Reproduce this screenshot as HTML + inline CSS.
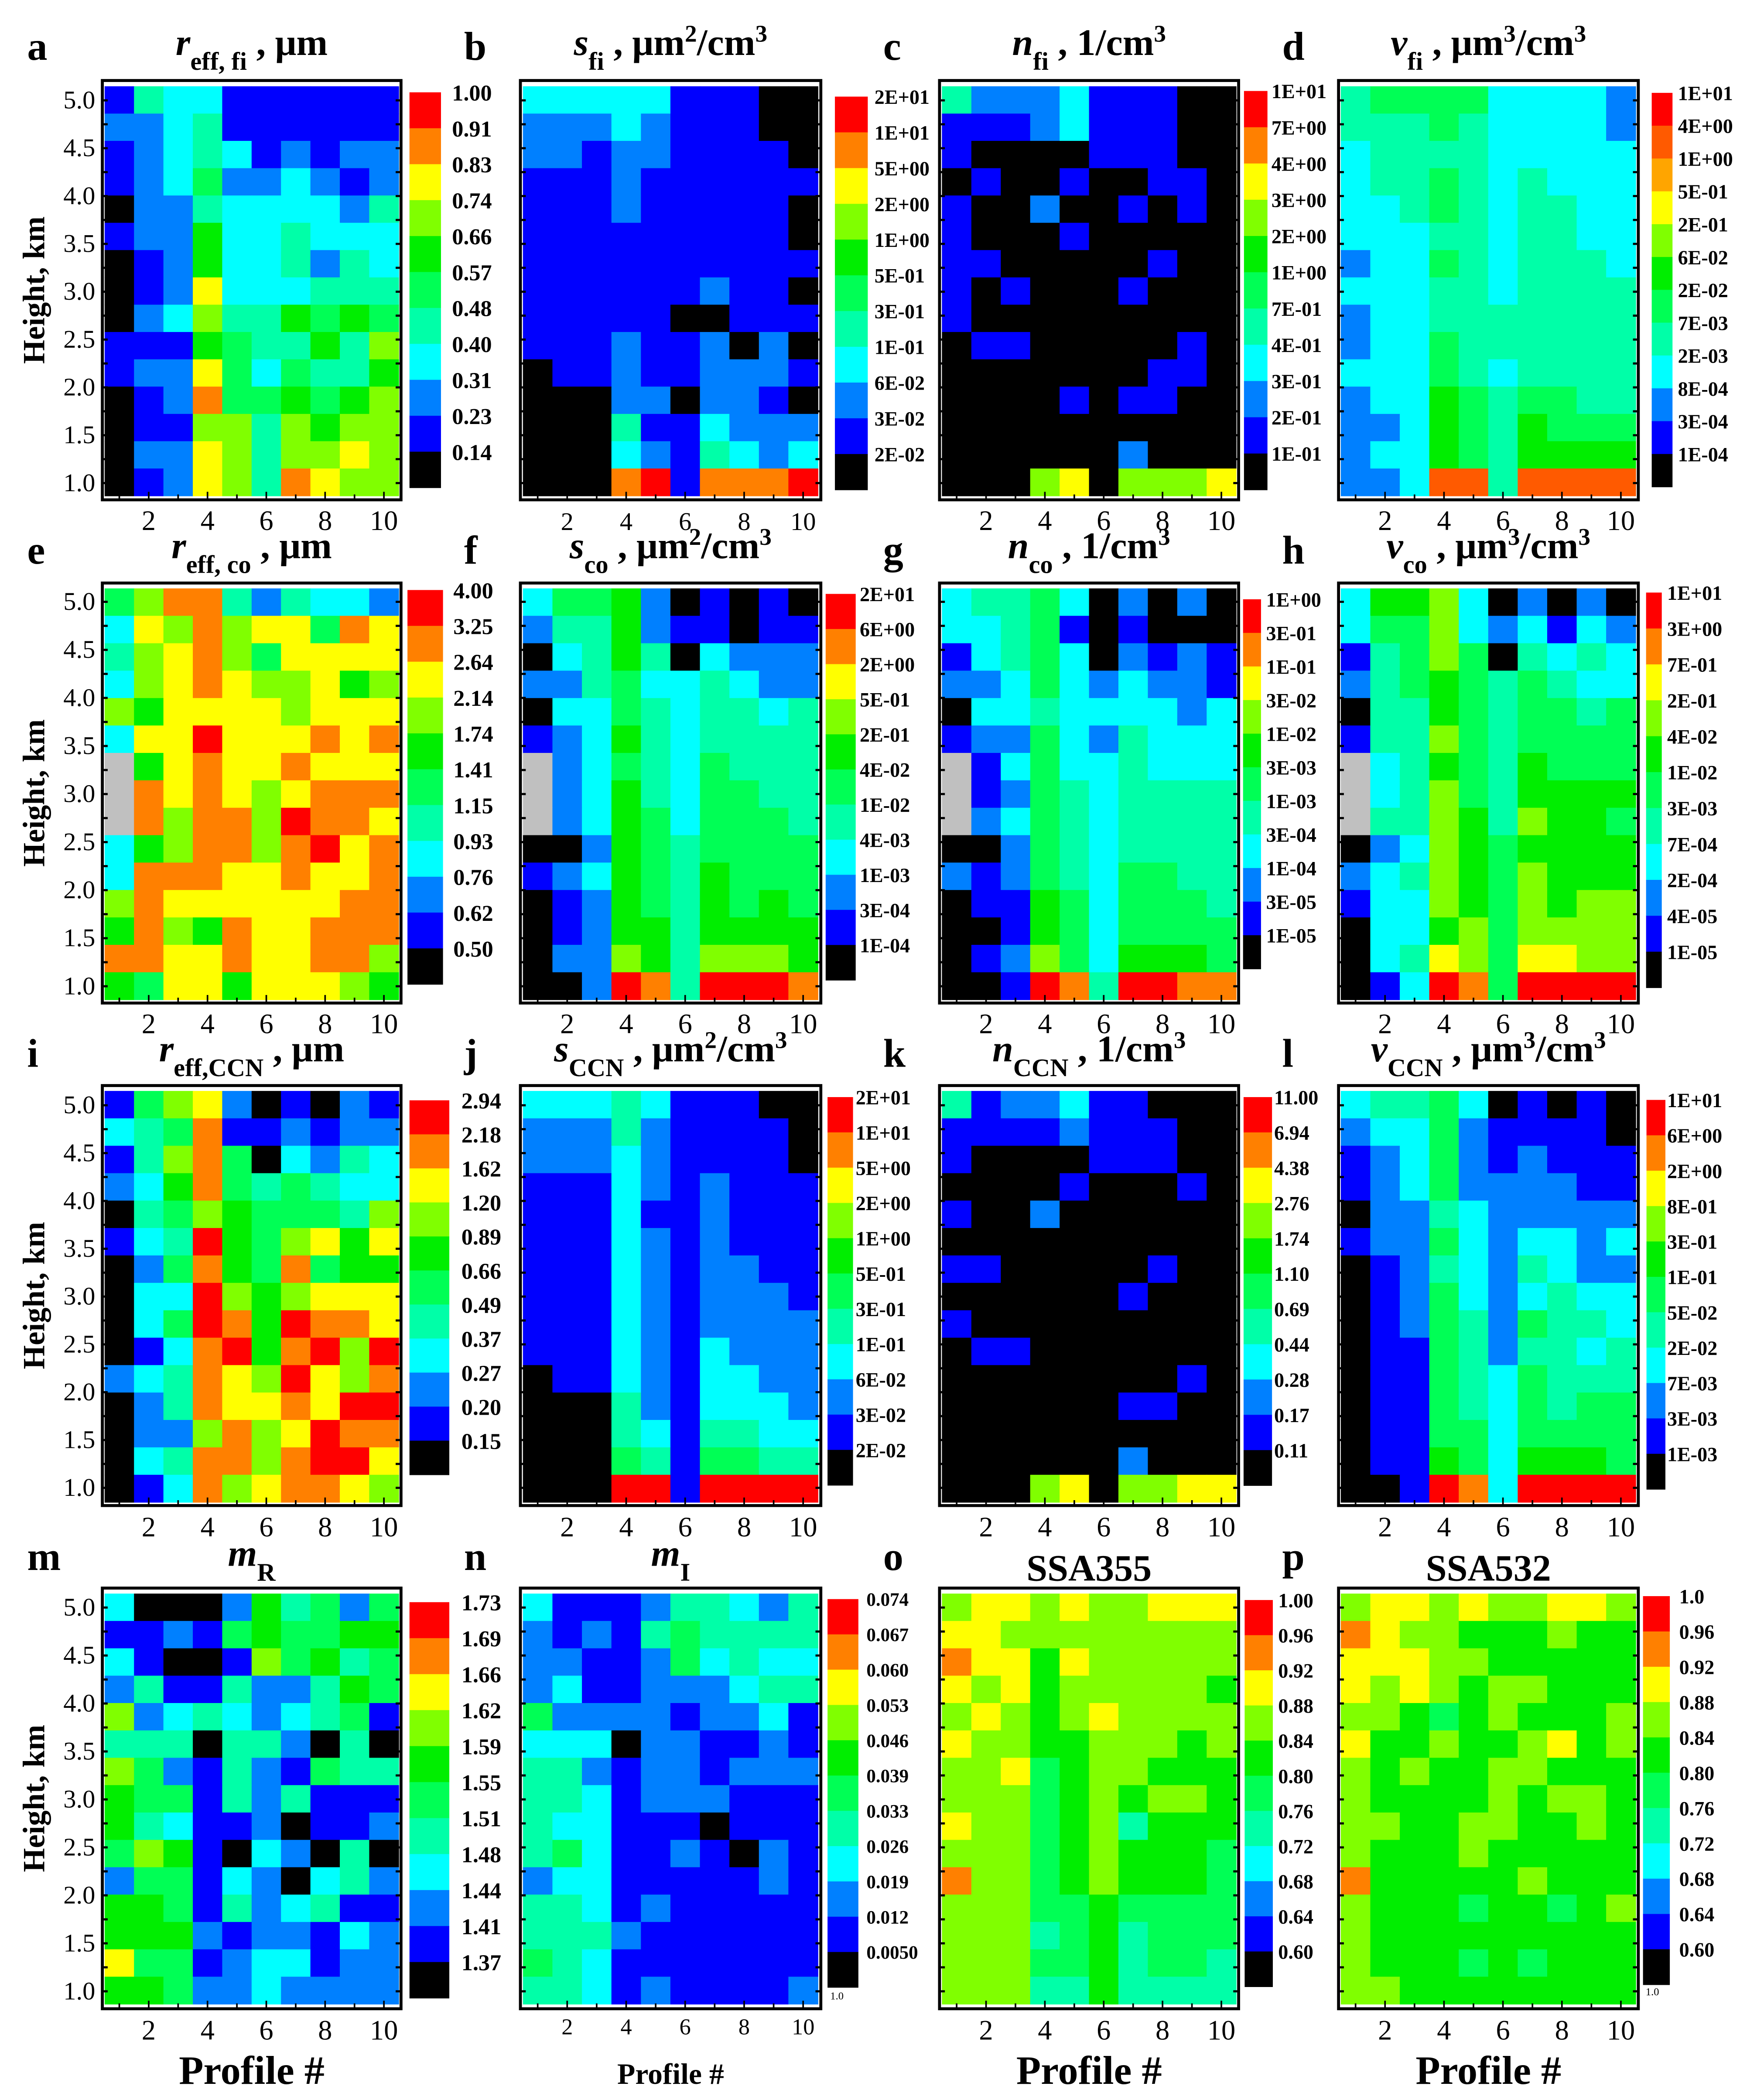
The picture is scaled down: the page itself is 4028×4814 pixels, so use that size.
<!DOCTYPE html>
<html><head><meta charset="utf-8">
<style>
html,body{margin:0;padding:0;background:#fff;}
svg{display:block;}
text{font-family:"Liberation Serif","DejaVu Serif",serif;}
</style></head>
<body>
<svg id="fig" xmlns="http://www.w3.org/2000/svg" width="4028" height="4814" viewBox="0 0 1310 1565" preserveAspectRatio="none">
<rect x="0" y="0" width="1310" height="1565" fill="#fff"/>
</svg>
<script>
// ---------- data ----------
const profiles = [1,2,3,4,5,6,7,8,9,10];
const heightTicks = [1.0,1.5,2.0,2.5,3.0,3.5,4.0,4.5,5.0];
const xTickLabels = [2,4,6,8,10];
// color level codes per cell (rows top = highest altitude)
const gridA = ["BMCCBBBBBB","LLCMBBBBBB","BLCMCBLBLL","BLCGLLCLBL","KLLMCCCCLM","BLLHCCMCCC","KBLHCCMLMC","KBLWCCCMMM","KLCYMMHGHG","BBBHGMMHMY","BLLWGCGMMH","KBLOGGHGHY","KBBYYMYHYY","KLLWYMYYWY","KBLWYMOWYY"];
const gridB = ["CCCCCBBBKK","LLLCLBBBKK","LLBLLBBBBK","BBBLBBBBBB","BBBLBBBBBK","BBBBBBBBBK","BBBBBBBBBB","BBBBBBLBBK","BBBBBKKBBB","BBBLBBLKLK","KBBLBBLLLB","KKKLLKLLBK","KKKMBBCLLL","KKKCLBMCLC","KKKORBOOOR"];
const gridC = ["MLLLCBBBKK","BBBLCBBBKK","BKKKKBBBKK","KBKKBKKBBK","BKKLKKBKBK","BKKKBKKKKK","BBKKKKKBKK","BKBKKKBKKK","BKKKKKKKKK","KBBKKKKKBK","KKKKKKKBBK","KKKKBKBBKK","KKKKKKKKKK","KKKKKKLKKK","KKKYWKYYYW"];
const gridD = ["MGGGGCCCCL","MMMGMCCCCL","CMMMMCCCCC","CMMGMCMCCC","CCMGMCMMCC","CCCMMCMMCC","LCCGMCMMMC","CCCMMCMMMM","LCCMMMMMMM","LCCGMMMMMM","CCCGMCMMMM","LCCHGMGGMM","LLCHGMHGGG","LCCHGMHHHH","LLCPPMPPPP"];
const gridE = ["GYOOMLMCCL","CWYOYWWGOW","MYWOYGWWWW","CYWOWYYWHY","YHWWWWYWWW","CWWRWWWOWO","SHWOWWOWWW","SOWOWYWOOO","SOYOOYROOW","CHYOOYORWO","COOOWWOWWO","YOWWWWWWOO","HOYHOWWOOO","OOWWOWWOOY","HGWWHWWWYH"];
const gridF = ["CGGHLKBKBK","LMMHLBBKBB","KCMHMKCLLL","LLMGCCMCLL","KCCGMCMMCM","BLCHMCMMMM","SLCGMCGMMM","SLCHMCGGMM","SLCHGCGGGM","KKLHGMGGGG","BLCHGMHGGG","KBLHGMHGHG","KBLHHMHHHH","KLLYHMYYYH","KKLROMRRRO"];
const gridG = ["CMMGCKLKLK","CCMGBKBKKK","BCMGCKLBLB","LLCGCLCLLB","KCCMCCCCLC","BLLGCLMCCC","SBCGCCMCCC","SBLGMCMMMM","SLCGMCMMMM","KKLGMCMMMM","LBLGMCGGMM","KBBHGCGGGM","KKBHGCGGGG","KBLYGCHHHG","KKBROMRROO"];
const gridH = ["CHHYCKLKLK","CGGYCLCBCL","BMGYGKMCMC","LMGHGMGMCC","KMMHGMGGMG","BMMYGMGGGG","SCMHGMHGGG","SCMYGMHHHH","SMMYHMYHHG","KLCYHGHHHH","LCMYHGYHHH","BCCYHGYHYY","KCCHYGYYYY","KCMWYGWWYY","KBCROGRRRR"];
const gridI = ["BGYWLKBKLB","CMGOBBLBLL","BMYOGKCLMC","LCHOGMGMCC","KMGYHGGGMY","BCMRHGYWHW","KLGOHGOGHH","KCCRYHYWWW","KCGROHROOW","KBCORHORYR","LCMOWYRWYO","KLMOWWOWRR","KLLYOYWROO","KCMOOYORRW","KBCOYWOOWY"];
const gridJ = ["CCCMCBBBKK","LLLMLBBBBK","LLLCLBBBBK","BBBCLBLBBB","BBBCBBLBBB","BBBCLBLBBB","BBBCLBLLBB","BBBCLBLLLB","BBBCLBLLLL","BBBCLBCLLL","KBBCLBCCLL","KKKMLBCCCL","KKKMCBMMCC","KKKGMBGGMM","KKKRRBRRRR"];
const gridK = ["MBLLCBBKKK","BBBBLBBBKK","BKKKKBBBKK","KKKKBKKKBK","BKKLKKKKKK","KKKKKKKKKK","BBKKKKKBKK","KKKKKKBKKK","BKKKKKKKKK","KBBKKKKKKK","KKKKKKKKBK","KKKKKKBBKK","KKKKKKKKKK","KKKKKKLKKK","KKKYWKYYWW"];
const gridL = ["CMMGCKBKBK","LCCGLBBBBK","BLCGLBLBBB","BLCGLLLLBB","KLLMCLLLLL","BLLGCLCCLC","KBLMCLMCLL","KBLGCLCMCC","KBLGMLGMMC","KBBGMLMMCM","KBBGMCGMMM","KBBGMCGMGG","KBBGGCGGGG","KBBHGCHHHG","KKBROCRRRR"];
const gridM = ["CKKKLHMGLG","BBLBGHGGHH","CBKKBYGHMG","LMBBMLLMHG","YLCMCLCMGB","MMMKMMLKMK","YGLBMLBGMM","HGGBMLMBBB","HMCBBLKBBL","GYHBKCLKMK","LGGBCLKCML","HHGBMLCMBB","HHHLBLLBCL","WGGBLCCBLL","HHGLLCLLLL"];
const gridN = ["CBBBLMMCLM","LBLBMGMMMM","LLBBLGCMCC","LCBBLLLCMM","GLLLLBLLCB","CCCKLLBBLB","MMLBLLBLLL","MMCBLLLBBB","MCCBBBKBBB","MGCBBLBKLB","LCCBBBBBLB","MMCBLBBBBB","MMMLBBBBBB","GMCBBBBBBB","MMCBLBBBBL"];
const gridO = ["YWWYWYYWWW","WWYYYYYYYY","OWWHWYYYYY","WYWHYYYYYH","YWYHYWYYYY","WYYHHYYYHY","YYWGHYYHHH","YYYGHYHYYH","WYYGHYMHHH","YYYGHYHHHG","OYYGHYHHHG","YYYGGHGGGG","YYYMGHMGGG","YYYGGHMGGM","YYYMMHMMMM"];
const gridP = ["YWWYWYYWWY","OWYYHHHYHH","WWWYYHHHHH","WYWYHYYHHH","YYHGHYHHHY","WHHYHHYWHY","YHYHHYYHHH","YHHHHYHYYH","YYHHYYHHYH","YHHHYHHHHH","OHHHHHYHHH","YHHHGHHGHY","YHHHHHHHHH","YHHHGHGHHH","YYHHHHHHHH"];
// colorbar tick labels
const labelsA = ["1.00","0.91","0.83","0.74","0.66","0.57","0.48","0.40","0.31","0.23","0.14"];
const labelsB = ["2E+01","1E+01","5E+00","2E+00","1E+00","5E-01","3E-01","1E-01","6E-02","3E-02","2E-02"];
const labelsC = ["1E+01","7E+00","4E+00","3E+00","2E+00","1E+00","7E-01","4E-01","3E-01","2E-01","1E-01"];
const labelsD = ["1E+01","4E+00","1E+00","5E-01","2E-01","6E-02","2E-02","7E-03","2E-03","8E-04","3E-04","1E-04"];
const labelsE = ["4.00","3.25","2.64","2.14","1.74","1.41","1.15","0.93","0.76","0.62","0.50"];
const labelsF = ["2E+01","6E+00","2E+00","5E-01","2E-01","4E-02","1E-02","4E-03","1E-03","3E-04","1E-04"];
const labelsG = ["1E+00","3E-01","1E-01","3E-02","1E-02","3E-03","1E-03","3E-04","1E-04","3E-05","1E-05"];
const labelsH = ["1E+01","3E+00","7E-01","2E-01","4E-02","1E-02","3E-03","7E-04","2E-04","4E-05","1E-05"];
const labelsI = ["2.94","2.18","1.62","1.20","0.89","0.66","0.49","0.37","0.27","0.20","0.15"];
const labelsJ = ["2E+01","1E+01","5E+00","2E+00","1E+00","5E-01","3E-01","1E-01","6E-02","3E-02","2E-02"];
const labelsK = ["11.00","6.94","4.38","2.76","1.74","1.10","0.69","0.44","0.28","0.17","0.11"];
const labelsL = ["1E+01","6E+00","2E+00","8E-01","3E-01","1E-01","5E-02","2E-02","7E-03","3E-03","1E-03"];
const labelsM = ["1.73","1.69","1.66","1.62","1.59","1.55","1.51","1.48","1.44","1.41","1.37"];
const labelsN = ["0.074","0.067","0.060","0.053","0.046","0.039","0.033","0.026","0.019","0.012","0.0050"];
const labelsO = ["1.00","0.96","0.92","0.88","0.84","0.80","0.76","0.72","0.68","0.64","0.60"];
const labelsP = ["1.0","0.96","0.92","0.88","0.84","0.80","0.76","0.72","0.68","0.64","0.60"];
const bandsStd = "ROWYHGMCLBK";
const bandsD = "RPAWYHGMCLBK";

// ---------- style / layout ----------
const COLORS = {K:'#000000',B:'#0000ff',L:'#0080ff',C:'#00ffff',M:'#00ffa8',G:'#00ff55',H:'#00ee00',Y:'#80ff00',W:'#ffff00',O:'#ff8000',R:'#ff0000',P:'#ff5a00',A:'#ffa500',S:'#c0c0c0'};
const NS = 'http://www.w3.org/2000/svg';
const svg = document.getElementById('fig');
const colX = [ {f0:76.3,f1:299,c0:78,c1:297.2}, {f0:388,f1:612,c0:389.9,c1:609.8}, {f0:700.5,f1:923.5,c0:702.3,c1:921.6}, {f0:998,f1:1221.5,c0:999.7,c1:1219.5} ];
const rowY = [
 {f0:60,f1:372.5,c0:64.3,c1:369.5,y5:74.8,y1:360,xl:395,letter:44.5,title:41},
 {f0:434.5,f1:747.5,c0:438.5,c1:745,y5:448.5,y1:735,xl:770,letter:420,title:416},
 {f0:809,f1:1122,c0:813,c1:1119.5,y5:823.7,y1:1108.8,xl:1145,letter:795,title:791},
 {f0:1183.5,f1:1497,c0:1187.6,c1:1493.5,y5:1198,y1:1484,xl:1520,letter:1170,title:1167}
];
const panels = [
 {id:'a',grid:gridA,labels:labelsA,bands:bandsStd,r:0,c:0,cb:[305.3,328.8,68.8,363.4],lx:337,fs:17,title:[['r','i'],['eff, fi','sub'],[' , μm','n']]},
 {id:'b',grid:gridB,labels:labelsB,bands:bandsStd,r:0,c:1,cb:[622.5,647,72,365],lx:652,fs:15,title:[['s','i'],['fi','sub'],[' , μm','n'],['2','sup'],['/cm','n'],['3','sup']]},
 {id:'c',grid:gridC,labels:labelsC,bands:bandsStd,r:0,c:2,cb:[927.5,945,67.8,365],lx:948,fs:15,title:[['n','i'],['fi','sub'],[' , 1/cm','n'],['3','sup']]},
 {id:'d',grid:gridD,labels:labelsD,bands:bandsD,r:0,c:3,cb:[1231.5,1247,69.2,362.8],lx:1251,fs:15,title:[['v','i'],['fi','sub'],[' ,  μm','n'],['3','sup'],['/cm','n'],['3','sup']]},
 {id:'e',grid:gridE,labels:labelsE,bands:bandsStd,r:1,c:0,cb:[303.8,330.3,439.7,733.5],lx:338,fs:17,title:[['r','i'],['eff, co','sub'],[' , μm','n']]},
 {id:'f',grid:gridF,labels:labelsF,bands:bandsStd,r:1,c:1,cb:[615.6,638,442.6,730.4],lx:641,fs:15,title:[['s','i'],['co','sub'],[' , μm','n'],['2','sup'],['/cm','n'],['3','sup']]},
 {id:'g',grid:gridG,labels:labelsG,bands:bandsStd,r:1,c:2,cb:[926.8,940.2,446.6,722],lx:944,fs:15,title:[['n','i'],['co','sub'],[' , 1/cm','n'],['3','sup']]},
 {id:'h',grid:gridH,labels:labelsH,bands:bandsStd,r:1,c:3,cb:[1227.3,1239,441.6,736],lx:1243,fs:15,title:[['v','i'],['co','sub'],[' , μm','n'],['3','sup'],['/cm','n'],['3','sup']]},
 {id:'i',grid:gridI,labels:labelsI,bands:bandsStd,r:2,c:0,cb:[305.3,335,820,1099],lx:344,fs:17,title:[['r','i'],['eff,CCN','sub'],[' , μm','n']]},
 {id:'j',grid:gridJ,labels:labelsJ,bands:bandsStd,r:2,c:1,cb:[617,636,817.6,1106.8],lx:638,fs:15,title:[['s','i'],['CCN','sub'],[' , μm','n'],['2','sup'],['/cm','n'],['3','sup']]},
 {id:'k',grid:gridK,labels:labelsK,bands:bandsStd,r:2,c:2,cb:[927.2,948.4,817.6,1107],lx:950,fs:15,title:[['n','i'],['CCN','sub'],[' , 1/cm','n'],['3','sup']]},
 {id:'l',grid:gridL,labels:labelsL,bands:bandsStd,r:2,c:3,cb:[1227.6,1241.7,819.7,1109.8],lx:1243,fs:15,title:[['v','i'],['CCN','sub'],[' , μm','n'],['3','sup'],['/cm','n'],['3','sup']]},
 {id:'m',grid:gridM,labels:labelsM,bands:bandsStd,r:3,c:0,cb:[305.3,335,1194,1489],lx:344,fs:17,title:[['m','i'],['R','sub']]},
 {id:'n',grid:gridN,labels:labelsN,bands:bandsStd,r:3,c:1,cb:[617,640,1191.7,1481],lx:646,fs:14,title:[['m','i'],['I','sub']]},
 {id:'o',grid:gridO,labels:labelsO,bands:bandsStd,r:3,c:2,cb:[928,949,1192.4,1480.5],lx:953,fs:15,title:[['SSA355','n']],plain:true},
 {id:'p',grid:gridP,labels:labelsP,bands:bandsStd,r:3,c:3,cb:[1225,1245,1189.5,1479],lx:1252,fs:15,title:[['SSA532','n']],plain:true}
];

function mk(tag, attrs, parent){
  const el = document.createElementNS(NS, tag);
  for (const k in attrs) el.setAttribute(k, attrs[k]);
  (parent||svg).appendChild(el);
  return el;
}

panels.forEach(p => {
  const cx = colX[p.c], ry = rowY[p.r];
  const g = mk('g', {});
  
  
  const nRows = p.grid.length;
  const cellW = (cx.c1 - cx.c0) / profiles.length;
  const cellH = (ry.c1 - ry.c0) / nRows;
  const xScale = prof => cx.c0 + (prof - 1) * cellW;
  const rowScale = j => ry.c0 + j * cellH;
  const yScale = h => ry.y5 + (5 - h) * (ry.y1 - ry.y5) / 4;
  // cells
  p.grid.forEach((rowStr, j) => {
    profiles.forEach((prof, i) => {
      const code = rowStr[i];
      const r = mk('rect', {x: xScale(prof).toFixed(2), y: rowScale(j).toFixed(2), width: (cellW+0.3).toFixed(2), height: (cellH+0.3).toFixed(2), fill: COLORS[code]}, g);
      
      
    });
  });
  // frame
  const fr = mk('rect', {x: cx.f0, y: ry.f0, width: cx.f1 - cx.f0, height: ry.f1 - ry.f0, fill: 'none', stroke: '#000', 'stroke-width': 2.2}, g);
  
  
  // y ticks
  for (let h = 1.0; h <= 5.001; h += 0.25) {
    const y = yScale(h);
    mk('line', {x1: cx.f0, x2: cx.f0 + 4, y1: y, y2: y, stroke: '#000', 'stroke-width': 1.6}, g);
    mk('line', {x1: cx.f1 - 4, x2: cx.f1, y1: y, y2: y, stroke: '#000', 'stroke-width': 1.6}, g);
  }
  // x ticks
  profiles.forEach(prof => {
    const x = xScale(prof) + cellW / 2;
    const len = prof % 2 === 0 ? 6 : 4;
    mk('line', {x1: x, x2: x, y1: ry.f1, y2: ry.f1 - len, stroke: '#000', 'stroke-width': 1.2}, g);
  });
  // x tick labels
  const xfs = p.id === 'n' ? 17 : (p.id === 'b' ? 19 : 21);
  const xly = p.id === 'n' ? ry.xl - 4 : ry.xl;
  xTickLabels.forEach(v => {
    const t = mk('text', {x: xScale(v) + cellW / 2, y: xly, 'font-size': xfs, 'text-anchor': 'middle'}, g);
    t.textContent = String(v);
    
    
  });
  // y tick labels (first column)
  if (p.c === 0) {
    heightTicks.forEach(h => {
      const t = mk('text', {x: 71, y: yScale(h) + 6, 'font-size': 19, 'text-anchor': 'end'}, g);
      t.textContent = h.toFixed(1);
      
      
    });
    const yt = mk('text', {x: 0, y: 0, 'font-size': 23, 'font-weight': 'bold', 'text-anchor': 'middle', transform: 'translate(33,' + ((ry.f0 + ry.f1) / 2) + ') rotate(-90)'}, g);
    yt.textContent = 'Height, km';
    
    
  }
  // colorbar
  const [bx0, bx1, by0, by1] = p.cb;
  const bandH = (by1 - by0) / p.bands.length;
  const cbg = mk('g', {}, g);
  
  
  [...p.bands].forEach((code, k) => {
    mk('rect', {x: bx0, y: (by0 + k * bandH).toFixed(2), width: bx1 - bx0, height: (bandH + 0.3).toFixed(2), fill: COLORS[code]}, cbg);
  });
  p.labels.forEach((lab, k) => {
    const t = mk('text', {x: p.lx, y: (by0 + k * bandH + p.fs * 0.36).toFixed(2), 'font-size': p.fs, 'font-weight': 'bold'}, cbg);
    t.textContent = lab;
    
    
  });
  // panel letter
  const L = mk('text', {x: cx.f0 - (p.c === 0 ? 56 : 42), y: ry.letter, 'font-size': 30, 'font-weight': 'bold'}, g);
  L.textContent = p.id;
  
  
  // title
  const tcx = (cx.f0 + cx.f1) / 2;
  const T = mk('text', {x: tcx, y: p.plain ? ry.title + 11 : ry.title, 'font-size': 28, 'font-weight': 'bold', 'text-anchor': 'middle'}, g);
  
  
  let shift = 0;
  p.title.forEach(([txt, kind]) => {
    const s = document.createElementNS(NS, 'tspan');
    s.textContent = txt;
    if (kind === 'i') s.setAttribute('font-style', 'italic');
    if (kind === 'sub') { s.setAttribute('font-size', '19'); s.setAttribute('dy', String(11 - shift)); shift = 11; }
    else if (kind === 'sup') { s.setAttribute('font-size', '18'); s.setAttribute('dy', String(-10 - shift)); shift = -10; }
    else { if (shift !== 0) { s.setAttribute('dy', String(-shift)); shift = 0; } }
    T.appendChild(s);
  });
  // x axis title for bottom row
  if (p.r === 3) {
    const xt = mk('text', {x: tcx, y: 1553, 'font-size': p.id === 'n' ? 22 : 30, 'font-weight': 'bold', 'text-anchor': 'middle'}, g);
    xt.textContent = 'Profile #';
    
    
  }
});
// tiny "1.0" marks under n and p colorbars
[[619,1490],[1227,1487]].forEach(([x,y]) => {
  const t = mk('text', {x: x, y: y, 'font-size': 8});
  t.textContent = '1.0';
  
  
});
</script>
</body></html>
